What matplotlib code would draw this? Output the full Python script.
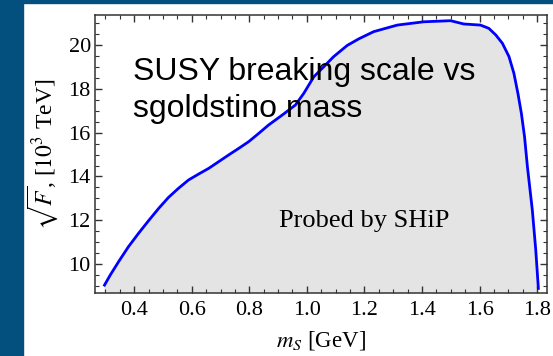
import matplotlib
matplotlib.use("Agg")
import matplotlib.pyplot as plt
from matplotlib.patches import Rectangle
from matplotlib.ticker import MultipleLocator

# sgoldstino mass [GeV] and sqrt(F) [10^3 TeV]
m_s = [0.297, 0.317, 0.346, 0.380, 0.415, 0.450, 0.485, 0.519, 0.554, 0.589,
       0.624, 0.659, 0.693, 0.728, 0.763, 0.798, 0.833, 0.867, 0.914, 0.960,
       0.989, 1.024, 1.058, 1.093, 1.140, 1.180, 1.232, 1.314, 1.406, 1.499,
       1.545, 1.603, 1.632, 1.656, 1.679, 1.702, 1.719, 1.733, 1.745, 1.756,
       1.766, 1.783, 1.795, 1.804]
sqrt_f = [9.04, 9.50, 10.11, 10.79, 11.40, 11.98, 12.54, 13.04, 13.46, 13.84,
          14.11, 14.37, 14.67, 14.98, 15.28, 15.59, 15.97, 16.35, 16.80, 17.26,
          17.79, 18.55, 19.00, 19.47, 19.98, 20.28, 20.61, 20.91, 21.06, 21.11,
          20.96, 20.91, 20.76, 20.46, 20.08, 19.47, 18.71, 17.79, 16.88, 15.81,
          14.44, 12.47, 10.64, 8.89]

x_ticks = [0.4, 0.6, 0.8, 1.0, 1.2, 1.4, 1.6, 1.8]
y_ticks = [10, 12, 14, 16, 18, 20]

plt.rcParams["font.family"] = ["Liberation Serif", "DejaVu Serif"]
plt.rcParams["mathtext.fontset"] = "stix"

fig = plt.figure(figsize=(5.53, 3.56), dpi=100)
ax = fig.add_axes([95 / 553, 1 - 293 / 356, 452 / 553, 278 / 356])

# slide frame
fig.patches.append(Rectangle((0, 0), 23 / 553, 1, transform=fig.transFigure,
                             color="#03507e", zorder=0))
fig.patches.append(Rectangle((0, 1 - 2.5 / 356), 1, 2.5 / 356, transform=fig.transFigure,
                             color="#03507e", zorder=0))

ax.fill_between(m_s, sqrt_f, 0, color="#e4e4e4", lw=0)
ax.plot(m_s, sqrt_f, color="#0000ff", lw=2.0, solid_joinstyle="round")

ax.set_xlim(0.264, 1.834)
ax.set_ylim(8.68, 21.37)
ax.set_xticks(x_ticks)
ax.set_yticks(y_ticks)
ax.set_xticklabels([f"{t:.1f}" for t in x_ticks])
ax.xaxis.set_minor_locator(MultipleLocator(0.05))
ax.yaxis.set_minor_locator(MultipleLocator(0.5))
ax.tick_params(which="both", direction="in", top=True, right=True,
               color="#333333", labelsize=16)
ax.tick_params(axis="x", pad=6)
ax.tick_params(axis="y", pad=3)
ax.tick_params(which="major", length=5, width=1)
ax.tick_params(which="minor", length=3, width=0.8)
for s in ax.spines.values():
    s.set_color("#333333")
    s.set_linewidth(1.1)

ax.set_xlabel(r"$m_S$ [GeV]", fontsize=16.5, labelpad=6)
ax.set_ylabel(r"$\sqrt{F}$, [$10^3$ TeV]", fontsize=17, labelpad=6)

ax.text((279 - 95) / 452, 1 - (227 - 15) / 278, "Probed by SHiP",
        transform=ax.transAxes, fontsize=19, va="baseline")

fig.text(133 / 553, 1 - 117 / 356, "SUSY breaking scale vs\nsgoldstino mass",
         family="Liberation Sans", fontsize=23, va="baseline", linespacing=1.3)

fig.savefig("out.png", dpi=100)
